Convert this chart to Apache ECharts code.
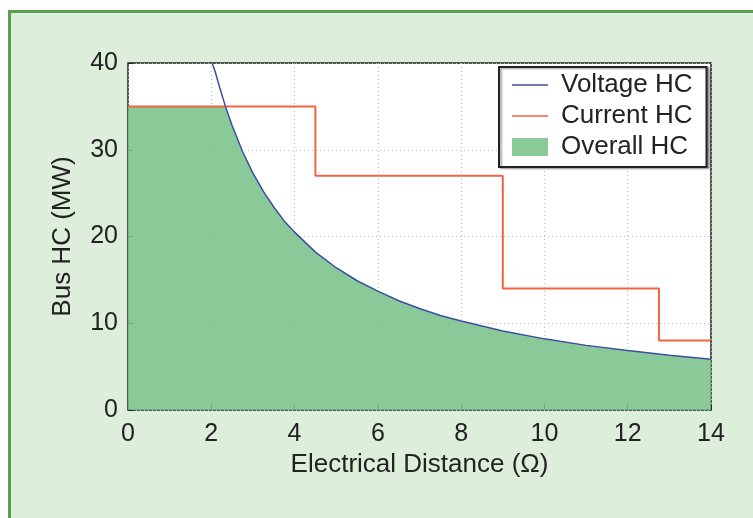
<!DOCTYPE html>
<html><head><meta charset="utf-8">
<script src="https://cdn.jsdelivr.net/npm/echarts@6/dist/echarts.min.js"></script>
<style>
html,body{margin:0;padding:0;background:#fff;}
#frame{position:absolute;left:8px;top:10px;width:800px;height:600px;border:3px solid #5c9e4c;background:#ddeedb;box-sizing:border-box;}
#chart{position:absolute;left:0;top:0;width:753px;height:518px;}
</style></head>
<body>
<div id="frame"></div>
<div id="chart"></div>
<script>
// Values
const xTicks = [0, 2, 4, 6, 8, 10, 12, 14];
const yTicks = [0, 10, 20, 30, 40];
// Voltage HC curve readings [distance, MW]
const voltageHC = [
  [2.02, 40.0], [2.1, 38.9], [2.2, 37.2], [2.34, 35.0], [2.5, 32.8], [2.75, 29.8],
  [3.0, 27.3], [3.25, 25.2], [3.5, 23.4], [3.75, 21.8], [4.0, 20.5], [4.5, 18.2],
  [5.0, 16.4], [5.5, 14.9], [6.0, 13.7], [6.5, 12.6], [7.0, 11.7], [7.5, 10.9],
  [8.0, 10.25], [9.0, 9.1], [10.0, 8.2], [11.0, 7.45], [12.0, 6.85], [13.0, 6.3], [14.0, 5.85]
];
// Current HC step readings (step starts)
const currentHC = [[0, 35], [4.5, 27], [9, 14], [12.75, 8], [14, 8]];

function currentAt(x) {
  let y = currentHC[0][1];
  for (const p of currentHC) { if (x >= p[0]) y = p[1]; }
  return y;
}
const overallHC = [[0, currentAt(0)]].concat(
  voltageHC.filter(p => p[1] <= currentAt(p[0])).map(p => [p[0], Math.min(p[1], currentAt(p[0]))])
);

const font = 'Liberation Sans, Arial, sans-serif';
const lineIcon = 'path://M0,0H36V1.6H0Z';
const chart = echarts.init(document.getElementById('chart'));
chart.setOption({
  backgroundColor: 'transparent',
  animation: false,
  textStyle: { fontFamily: font },
  grid: { left: 128, right: 42, top: 63, bottom: 108, show: true, backgroundColor: '#ffffff', borderColor: '#222', borderWidth: 1.5 },
  legend: {
    orient: 'vertical', left: 499, top: 67,
    padding: [5, 14, 7, 13], itemGap: 5, itemWidth: 36, itemHeight: 18,
    backgroundColor: '#fff', borderColor: '#222', borderWidth: 2,
    shadowColor: 'rgba(0,0,0,0.35)', shadowOffsetX: 2, shadowOffsetY: 1, shadowBlur: 2,
    textStyle: { fontSize: 26, color: '#222', fontFamily: font, padding: [0, 0, 0, 8] },
    data: [
      { name: 'Voltage HC', icon: lineIcon },
      { name: 'Current HC', icon: lineIcon },
      { name: 'Overall HC', icon: 'rect' }
    ]
  },
  xAxis: {
    type: 'value', min: xTicks[0], max: xTicks[xTicks.length - 1], interval: 2,
    name: 'Electrical Distance (Ω)', nameLocation: 'middle', nameGap: 42,
    nameTextStyle: { fontSize: 26, color: '#222', fontFamily: font },
    axisLine: { show: false },
    axisTick: { show: true, inside: true, length: 5, lineStyle: { color: '#222' } },
    axisLabel: { fontSize: 25, color: '#222', margin: 12, fontFamily: font },
    splitLine: { show: true, lineStyle: { color: '#bdbdbd', type: [1, 3], width: 1 } }
  },
  yAxis: {
    type: 'value', min: yTicks[0], max: yTicks[yTicks.length - 1], interval: 10,
    name: 'Bus HC (MW)', nameLocation: 'middle', nameGap: 52,
    nameTextStyle: { fontSize: 26, color: '#222', fontFamily: font },
    axisLine: { show: false },
    axisTick: { show: true, inside: true, length: 5, lineStyle: { color: '#222' } },
    axisLabel: { fontSize: 25, color: '#222', margin: 10, fontFamily: font },
    splitLine: { show: true, lineStyle: { color: '#bdbdbd', type: [1, 3], width: 1 } }
  },
  series: [
    {
      name: 'Overall HC', type: 'line', data: overallHC, symbol: 'none', z: 1,
      itemStyle: { color: '#89ca98' },
      lineStyle: { width: 0 },
      areaStyle: { color: '#76c187', opacity: 0.85 }
    },
    {
      name: 'Current HC', type: 'line', data: currentHC, step: 'end', symbol: 'none', z: 3,
      itemStyle: { color: '#f0653f' },
      lineStyle: { color: '#f0653f', width: 2 }
    },
    {
      name: 'Voltage HC', type: 'line', data: voltageHC, symbol: 'none', z: 4,
      itemStyle: { color: '#3b4ea3' },
      lineStyle: { color: '#3b4ea3', width: 1.5 }
    }
  ]
});
</script>
</body></html>
